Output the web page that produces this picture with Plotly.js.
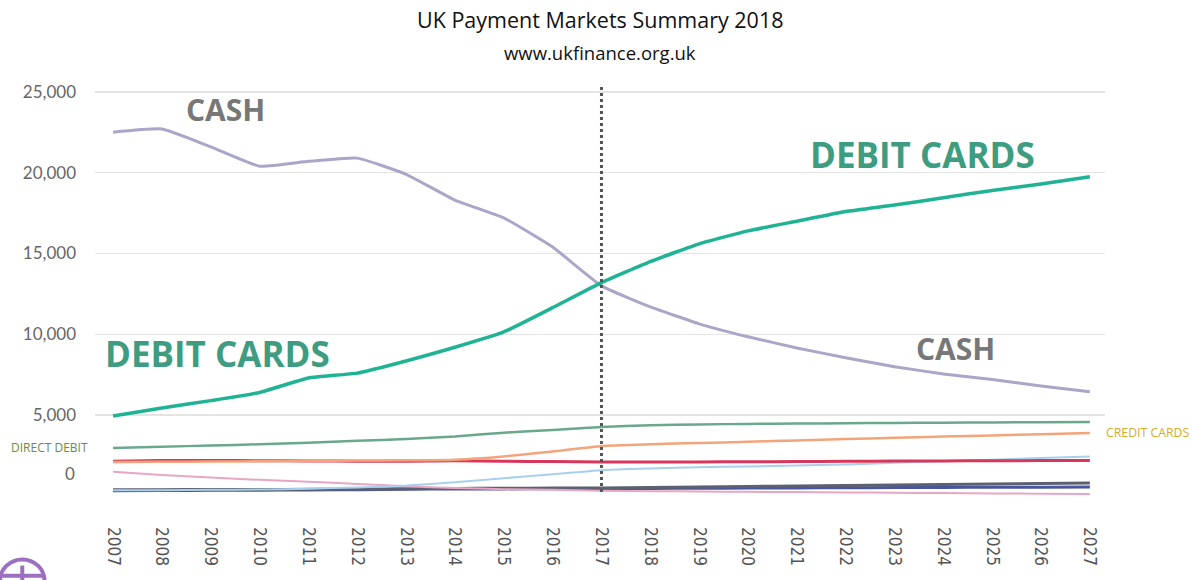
<!DOCTYPE html>
<html>
<head>
<meta charset="utf-8">
<script src="https://cdn.plot.ly/plotly-3.0.1.min.js"></script>
<style>html,body{margin:0;padding:0;background:#fff;}#chart{width:1192px;height:580px;}</style>
</head>
<body>
<div id="chart"></div>
<script>
const years = [2007,2008,2009,2010,2011,2012,2013,2014,2015,2016,2017,2018,2019,2020,2021,2022,2023,2024,2025,2026,2027];
const cash = [22500,22700,21600,20400,20700,20900,19900,18300,17200,15400,13000,11700,10650,9850,9160,8550,8000,7550,7200,6800,6450];
const debitCards = [4950,5450,5900,6400,7300,7600,8350,9200,10150,11650,13200,14500,15600,16400,17000,17600,18000,18450,18900,19300,19750];
const directDebit = [2970,3050,3120,3200,3300,3420,3520,3680,3920,4080,4270,4380,4430,4460,4480,4500,4520,4530,4550,4560,4580];
const creditCards = [2100,2120,2130,2150,2170,2190,2210,2250,2450,2750,3100,3200,3280,3350,3440,3520,3600,3680,3750,3820,3900];
const otherRed = [2150,2200,2200,2180,2170,2150,2150,2180,2150,2130,2100,2100,2110,2120,2130,2150,2160,2170,2180,2190,2200];
const lightBlue = [350,350,380,400,450,530,650,850,1100,1350,1600,1700,1780,1830,1880,1950,2050,2150,2250,2350,2450];
const pink = [1500,1300,1150,1000,880,750,600,500,420,380,330,300,280,260,240,220,200,180,160,140,120];
const darkGray = [380,390,400,400,410,430,450,470,480,490,500,530,560,590,620,650,680,710,740,770,810];
const navy = [330,340,350,360,370,390,420,430,440,450,460,470,480,490,500,510,520,530,540,545,550];
const yTickVals = [0,5000,10000,15000,20000,25000];
const yTickText = ['','5,000','10,000','15,000','20,000','25,000'];

function line(y, color, width, name){
  return {x: years, y: y, type:'scatter', mode:'lines', name: name,
    line:{color: color, width: width, shape:'spline', smoothing:0.4}, hoverinfo:'skip'};
}
const traces = [
  line(navy, '#4a55a0', 3, 'Navy'),
  line(darkGray, '#5c6070', 3, 'Dark'),
  line(pink, '#e8a6c4', 2, 'Pink'),
  line(lightBlue, '#a8d0ee', 2, 'Light blue'),
  line(otherRed, '#d8365a', 3, 'Red'),
  line(creditCards, '#f2a47a', 2.5, 'Credit cards'),
  line(directDebit, '#6aa88c', 2.5, 'Direct debit'),
  line(cash, '#a9a6c8', 3, 'Cash'),
  line(debitCards, '#1fb394', 3.5, 'Debit cards')
];

const boldFont = 'Open Sans, DejaVu Sans, sans-serif';
const layout = {
  width:1192, height:580,
  margin:{l:95, r:87, t:87, b:84},
  paper_bgcolor:'#fff', plot_bgcolor:'#fff',
  showlegend:false,
  xaxis:{range:[2006.63,2027.31], tickvals: years, ticktext: years.map(String), tickangle:90,
    showgrid:false, zeroline:false, showline:false, ticks:'', ticklabelstandoff:30,
    tickfont:{family:'Liberation Sans Narrow, DejaVu Sans Condensed, sans-serif', size:17, color:'#555'}},
  yaxis:{range:[0,25300], tickvals: yTickVals, ticktext: yTickText,
    showgrid:true, gridcolor:'#e4e4e4', gridwidth:1.5, zeroline:false, showline:false, ticks:'',
    ticklabelstandoff:18,
    tickfont:{family:'Lato, Open Sans, sans-serif', size:17, color:'#666'}},
  shapes:[
    {type:'line', xref:'x', yref:'y', x0:2017, x1:2017, y0:250, y1:25400,
     line:{color:'#555', width:3, dash:'dot'}},
    {type:'circle', xref:'paper', yref:'paper', x0:-0.094, x1:-0.05, y0:-0.26, y1:-0.155,
     line:{color:'#9c6fc0', width:4}},
    {type:'line', xref:'paper', yref:'paper', x0:-0.094, x1:-0.05, y0:-0.195, y1:-0.195,
     line:{color:'#9c6fc0', width:4}},
    {type:'line', xref:'paper', yref:'paper', x0:-0.072, x1:-0.072, y0:-0.26, y1:-0.17,
     line:{color:'#9c6fc0', width:4}}
  ],
  annotations:[
    {text:'UK Payment Markets Summary 2018', xref:'paper', yref:'paper', x:0.5, y:(580-20-87)/580*0+ (1+ (87-20)/409), yanchor:'middle', xanchor:'center', showarrow:false,
     font:{family:'Open Sans, sans-serif', size:21.5, color:'#111'}},
    {text:'www.ukfinance.org.uk', xref:'paper', yref:'paper', x:0.5, y:1+(87-52)/409, yanchor:'middle', xanchor:'center', showarrow:false,
     font:{family:'Open Sans, sans-serif', size:18.5, color:'#111'}},
    {text:'0', xref:'paper', yref:'y', x:-0.025, y:1400, showarrow:false, xanchor:'center',
     font:{family:'Lato, Open Sans, sans-serif', size:17, color:'#666'}},
    {text:'<b>CASH</b>', xref:'x', yref:'y', x:2009.31, y:23900, showarrow:false,
     font:{family:boldFont, size:30, color:'#777'}},
    {text:'<b>CASH</b>', xref:'x', yref:'y', x:2024.24, y:9100, showarrow:false,
     font:{family:boldFont, size:30, color:'#777'}},
    {text:'<b>DEBIT CARDS</b>', xref:'x', yref:'y', x:2023.58, y:21100, showarrow:false,
     font:{family:boldFont, size:35, color:'#3e9c80'}},
    {text:'<b>DEBIT CARDS</b>', xref:'x', yref:'y', x:2009.13, y:8790, showarrow:false,
     font:{family:boldFont, size:35, color:'#3e9c80'}},
    {text:'DIRECT DEBIT', xref:'paper', yref:'y', x:-0.085, y:3000, showarrow:false, xanchor:'left',
     font:{family:'Open Sans, sans-serif', size:12, color:'#6e8a45'}},
    {text:'CREDIT CARDS', xref:'paper', yref:'y', x:1.0, y:3950, showarrow:false, xanchor:'left', xshift:-1,
     font:{family:'Open Sans, sans-serif', size:12.3, color:'#d4ac2c'}}
  ]
};
Plotly.newPlot('chart', traces, layout, {displayModeBar:false, staticPlot:true});
</script>
</body>
</html>
